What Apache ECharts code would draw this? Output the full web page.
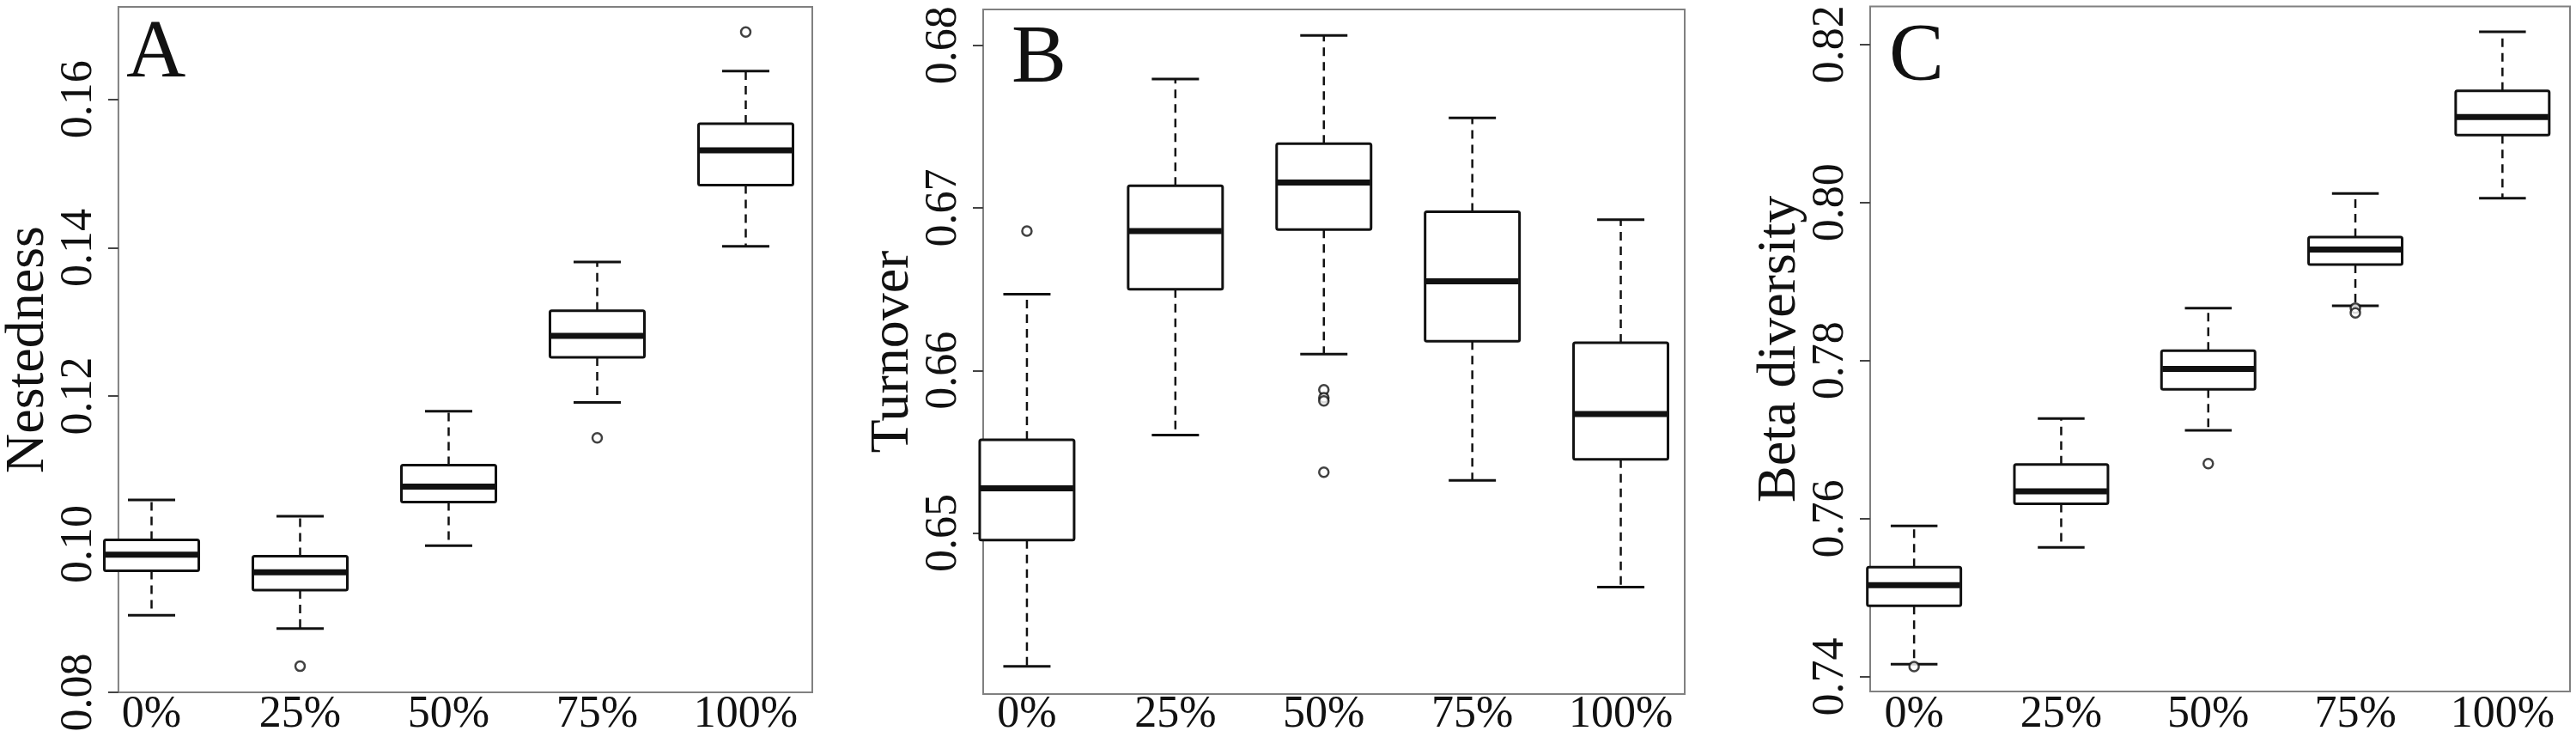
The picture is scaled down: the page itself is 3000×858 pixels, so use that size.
<!DOCTYPE html>
<html>
<head>
<meta charset="utf-8">
<script src="https://cdn.jsdelivr.net/npm/echarts@6/dist/echarts.min.js"></script>
<style>
  html, body { margin: 0; padding: 0; background: #ffffff; }
  #chart { width: 3000px; height: 858px; }
</style>
</head>
<body>
<div id="chart"></div>
<script>
// ---- Data ----
const categories = ['0%', '25%', '50%', '75%', '100%'];

// [lower whisker, Q1, median, Q3, upper whisker]
const nestednessBoxes = [
  [0.0902, 0.0962, 0.0984, 0.1004, 0.1058],
  [0.0884, 0.0936, 0.0960, 0.0982, 0.1036],
  [0.0996, 0.1055, 0.1076, 0.1105, 0.1178],
  [0.1190, 0.1251, 0.1280, 0.1314, 0.1380],
  [0.1401, 0.1484, 0.1531, 0.1567, 0.1638]
];
const nestednessOutliers = [['25%', 0.0833], ['75%', 0.1142], ['100%', 0.1691]];

const turnoverBoxes = [
  [0.6416, 0.6494, 0.6526, 0.6556, 0.6646],
  [0.6559, 0.6649, 0.6685, 0.6713, 0.6779],
  [0.6609, 0.6686, 0.6715, 0.6739, 0.6806],
  [0.6531, 0.6617, 0.6654, 0.6697, 0.6755],
  [0.6465, 0.6544, 0.6572, 0.6616, 0.6692]
];
const turnoverOutliers = [['0%', 0.6685], ['50%', 0.6587], ['50%', 0.6582], ['50%', 0.6580], ['50%', 0.6536]];

const betaBoxes = [
  [0.7415, 0.7489, 0.7515, 0.7538, 0.7590],
  [0.7563, 0.7618, 0.7634, 0.7668, 0.7726],
  [0.7711, 0.7763, 0.7789, 0.7812, 0.7866],
  [0.7869, 0.7921, 0.7940, 0.7956, 0.8011],
  [0.8005, 0.8085, 0.8108, 0.8141, 0.8216]
];
const betaOutliers = [['0%', 0.7412], ['50%', 0.7669], ['75%', 0.7866], ['75%', 0.7860]];

const nestednessTicks = [0.08, 0.10, 0.12, 0.14, 0.16];
const turnoverTicks = [0.65, 0.66, 0.67, 0.68];
const betaTicks = [0.74, 0.76, 0.78, 0.80, 0.82];

const panelLetters = ['A', 'B', 'C'];
const axisTitles = ['Nestedness', 'Turnover', 'Beta diversity'];

// ---- Styling / layout ----
const FONT = '"Liberation Serif", "DejaVu Serif", serif';
const INK = '#111111';
const FRAME = '#808080';

const panels = [
  { boxes: nestednessBoxes, outliers: nestednessOutliers, ticks: nestednessTicks, min: 0.08, max: 0.1725,
    cat: { left: 90, width: 865 }, frame: { left: 129, width: 817 }, top: 8, bottom: 806,
    letterPos: { left: 147, top: 16 } },
  { boxes: turnoverBoxes, outliers: turnoverOutliers, ticks: turnoverTicks, min: 0.6401, max: 0.6822,
    cat: { left: 1109.5, width: 864.5 }, frame: { left: 1145, width: 817 }, top: 11, bottom: 808,
    letterPos: { left: 1178, top: 22 } },
  { boxes: betaBoxes, outliers: betaOutliers, ticks: betaTicks, min: 0.73815, max: 0.8248,
    cat: { left: 2143.5, width: 863.5 }, frame: { left: 2178, width: 815 }, top: 7.5, bottom: 805,
    letterPos: { left: 2200, top: 20 } }
];

const BOX_FRAC = 0.636;

function renderBox(params, api) {
  const c = api.value(0);
  const pts = [1, 2, 3, 4, 5].map(function (i) { return api.coord([c, api.value(i)]); });
  const x = pts[0][0];
  const band = api.size([1, 0])[0];
  const bw = band * BOX_FRAC;
  const cw = bw / 2;
  const lo = pts[0][1], q1 = pts[1][1], md = pts[2][1], q3 = pts[3][1], hi = pts[4][1];
  const dashed = { stroke: INK, lineWidth: 2.5, lineDash: [10, 7] };
  const solid = { stroke: INK, lineWidth: 3 };
  return {
    type: 'group',
    children: [
      { type: 'line', shape: { x1: x, y1: q3, x2: x, y2: hi }, style: dashed },
      { type: 'line', shape: { x1: x, y1: q1, x2: x, y2: lo }, style: dashed },
      { type: 'line', shape: { x1: x - cw / 2, y1: hi, x2: x + cw / 2, y2: hi }, style: solid },
      { type: 'line', shape: { x1: x - cw / 2, y1: lo, x2: x + cw / 2, y2: lo }, style: solid },
      { type: 'rect', shape: { x: x - bw / 2, y: q3, width: bw, height: q1 - q3, r: 2 },
        style: { fill: '#ffffff', stroke: INK, lineWidth: 3 } },
      { type: 'line', shape: { x1: x - bw / 2 + 1, y1: md, x2: x + bw / 2 - 1, y2: md },
        style: { stroke: INK, lineWidth: 7 } }
    ]
  };
}

const grid = [], xAxis = [], yAxis = [], series = [], title = [];

panels.forEach(function (p, k) {
  const h = p.bottom - p.top;
  // frame grid (carries the visible y axis and the box border)
  grid.push({ left: p.frame.left, top: p.top, width: p.frame.width, height: h,
    show: true, borderColor: FRAME, borderWidth: 2, backgroundColor: 'transparent', containLabel: false });
  // category grid (carries the boxes and x labels)
  grid.push({ left: p.cat.left, top: p.top, width: p.cat.width, height: h, show: false, containLabel: false });

  const gFrame = 2 * k, gCat = 2 * k + 1;

  xAxis.push({ gridIndex: gFrame, type: 'value', min: 0, max: 1, show: false });
  xAxis.push({ gridIndex: gCat, type: 'category', data: categories, boundaryGap: true,
    axisLine: { show: false }, axisTick: { show: false }, splitLine: { show: false },
    axisLabel: { fontFamily: FONT, fontSize: 52, color: INK, margin: 2, lineHeight: 52, interval: 0 } });

  yAxis.push({ gridIndex: gFrame, type: 'value', min: p.min, max: p.max,
    name: axisTitles[k], nameLocation: 'middle', nameRotate: 90, nameGap: 65,
    nameTextStyle: { fontFamily: FONT, fontSize: 64, color: INK, lineHeight: 64 },
    axisLine: { show: false }, splitLine: { show: false },
    axisTick: { show: true, inside: false, length: 12, customValues: p.ticks,
      lineStyle: { color: '#444444', width: 2 } },
    axisLabel: { show: true, rotate: 90, margin: 20, customValues: p.ticks,
      fontFamily: FONT, fontSize: 52, color: INK, lineHeight: 52,
      formatter: function (v) { return Number(v).toFixed(2); } } });
  yAxis.push({ gridIndex: gCat, type: 'value', min: p.min, max: p.max, show: false });

  series.push({
    type: 'custom', xAxisIndex: gCat, yAxisIndex: gCat,
    data: p.boxes.map(function (b, i) { return [i].concat(b); }),
    encode: { x: 0, y: [1, 2, 3, 4, 5] },
    renderItem: renderBox, silent: true, z: 3
  });
  series.push({
    type: 'scatter', xAxisIndex: gCat, yAxisIndex: gCat,
    data: p.outliers, symbol: 'circle', symbolSize: 11, silent: true, z: 4,
    itemStyle: { color: '#ffffff', borderColor: INK, borderWidth: 2.5 }
  });

  title.push({ text: panelLetters[k], left: p.letterPos.left, top: p.letterPos.top, padding: 0,
    textStyle: { fontFamily: FONT, fontSize: 96, fontWeight: 'normal', color: INK, lineHeight: 96 } });
});

const chart = echarts.init(document.getElementById('chart'), null, { renderer: 'canvas', width: 3000, height: 858 });
chart.setOption({
  backgroundColor: '#ffffff',
  animation: false,
  title: title,
  grid: grid,
  xAxis: xAxis,
  yAxis: yAxis,
  series: series
});
</script>
</body>
</html>
